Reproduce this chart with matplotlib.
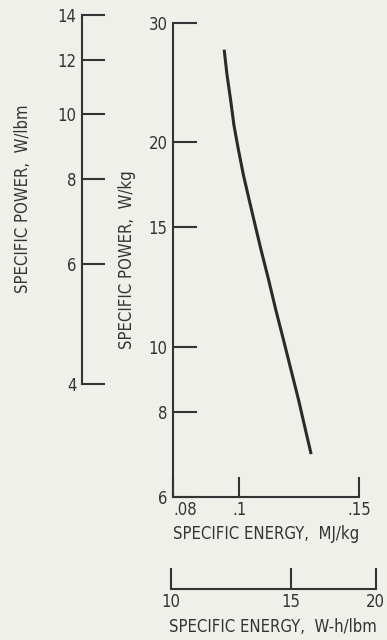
import matplotlib
matplotlib.use("Agg")
import matplotlib.pyplot as plt
from matplotlib.ticker import FixedLocator, FixedFormatter, NullLocator

# ---- data ----
energy_mj_kg = [0.0951, 0.0960, 0.0972, 0.0983, 0.0998, 0.1015, 0.1035, 0.1056,
                0.1077, 0.1105, 0.1133, 0.1163, 0.1192, 0.1223, 0.1252, 0.1276]
power_w_kg = [27.4, 25.2, 23.1, 21.2, 19.5, 17.9, 16.45, 15.1,
              13.9, 12.55, 11.3, 10.2, 9.24, 8.34, 7.53, 6.94]

x_ticks = [0.08, 0.1, 0.15]
x_tick_labels = [".08", ".1", ".15"]
y_ticks = [6, 8, 10, 15, 20, 30]
y_tick_labels = ["6", "8", "10", "15", "20", "30"]
lbm_ticks = [4, 6, 8, 10, 12, 14]
lbm_tick_labels = ["4", "6", "8", "10", "12", "14"]
wh_ticks = [10, 15, 20]
wh_tick_labels = ["10", "15", "20"]

KG_PER_LBM = 0.45359237
W_KG_PER_W_LBM = 1 / KG_PER_LBM          # W/lbm -> W/kg
MJ_KG_PER_WH_LBM = 3600e-6 / KG_PER_LBM  # W-h/lbm -> MJ/kg

plt.rcParams["font.family"] = ["DejaVu Sans"]
plt.rcParams["font.stretch"] = "condensed"
plt.rcParams["font.size"] = 12

ink = "#333333"
bg = "#f0f0eb"

W, H = 387, 640
fig = plt.figure(figsize=(W / 100, H / 100), dpi=100)
fig.patch.set_facecolor(bg)

ax = fig.add_axes([173 / W, 1 - 497 / H, 186 / W, 474 / H])
ax.set_xscale("log")
ax.set_yscale("log")
ax.set_xlim(0.08, 0.15)
ax.set_ylim(6, 30)
ax.patch.set_visible(False)
for s in ("top", "right"):
    ax.spines[s].set_visible(False)
for s in ("left", "bottom"):
    ax.spines[s].set_linewidth(1.5)
    ax.spines[s].set_color(ink)

ax.plot(energy_mj_kg, power_w_kg, color="#2a2a2a", lw=2.2, solid_capstyle="butt",
        solid_joinstyle="round")

ax.xaxis.set_major_locator(FixedLocator(x_ticks))
ax.xaxis.set_major_formatter(FixedFormatter(x_tick_labels))
ax.xaxis.set_minor_locator(NullLocator())
ax.yaxis.set_major_locator(FixedLocator(y_ticks))
ax.yaxis.set_major_formatter(FixedFormatter(y_tick_labels))
ax.yaxis.set_minor_locator(NullLocator())
ax.tick_params(axis="x", direction="in", length=14.5, width=1.5, color=ink,
               labelcolor=ink, pad=3)
ax.tick_params(axis="y", direction="in", length=17, width=1.5, color=ink,
               labelcolor=ink, pad=4)
ax.get_xticklabels()[0].set_horizontalalignment("left")
ax.set_xlabel("SPECIFIC ENERGY,  MJ/kg", color=ink, labelpad=4)
ax.set_ylabel("SPECIFIC POWER,  W/kg", color=ink, labelpad=9)

# positions of secondary scales from main axes transforms
inv = fig.transFigure.inverted()
_, yb = inv.transform(ax.transData.transform((0.1, lbm_ticks[0] * W_KG_PER_W_LBM)))
_, yt = inv.transform(ax.transData.transform((0.1, lbm_ticks[-1] * W_KG_PER_W_LBM)))
x0, _ = inv.transform(ax.transData.transform((wh_ticks[0] * MJ_KG_PER_WH_LBM, 10)))
x1, _ = inv.transform(ax.transData.transform((wh_ticks[-1] * MJ_KG_PER_WH_LBM, 10)))

# W/lbm scale
axl = fig.add_axes([82 / W, yb, 0.0005, yt - yb])
axl.set_yscale("log")
axl.set_ylim(lbm_ticks[0], lbm_ticks[-1])
axl.patch.set_visible(False)
for s in ("top", "right", "bottom"):
    axl.spines[s].set_visible(False)
axl.spines["left"].set_linewidth(1.5)
axl.spines["left"].set_color(ink)
axl.xaxis.set_major_locator(NullLocator())
axl.yaxis.set_major_locator(FixedLocator(lbm_ticks))
axl.yaxis.set_major_formatter(FixedFormatter(lbm_tick_labels))
axl.yaxis.set_minor_locator(NullLocator())
axl.tick_params(axis="y", direction="in", length=16.5, width=1.5, color=ink,
                labelcolor=ink, pad=4)
axl.set_ylabel("SPECIFIC POWER,  W/lbm", color=ink, labelpad=18)

# W-h/lbm scale
axw = fig.add_axes([x0, 1 - 589 / H, x1 - x0, 0.0005])
axw.set_xscale("log")
axw.set_xlim(wh_ticks[0], wh_ticks[-1])
axw.patch.set_visible(False)
for s in ("top", "right", "left"):
    axw.spines[s].set_visible(False)
axw.spines["bottom"].set_linewidth(1.5)
axw.spines["bottom"].set_color(ink)
axw.yaxis.set_major_locator(NullLocator())
axw.xaxis.set_major_locator(FixedLocator(wh_ticks))
axw.xaxis.set_major_formatter(FixedFormatter(wh_tick_labels))
axw.xaxis.set_minor_locator(NullLocator())
axw.tick_params(axis="x", direction="in", length=15, width=1.5, color=ink,
                labelcolor=ink, pad=3)
axw.set_xlabel("SPECIFIC ENERGY,  W-h/lbm", color=ink, labelpad=5)

fig.savefig("out.png", dpi=100, facecolor=bg)
